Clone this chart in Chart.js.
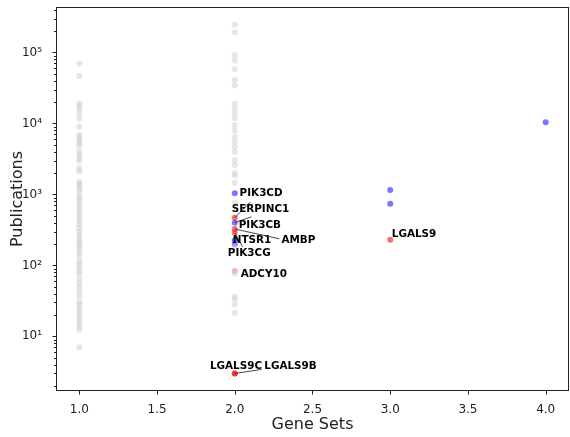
<!DOCTYPE html>
<html>
<head>
<meta charset="utf-8">
<script src="https://cdn.jsdelivr.net/npm/chart.js@4.4.1/dist/chart.umd.min.js"></script>
<style>
  html, body { margin: 0; padding: 0; background: #fff; }
  #wrap { width: 570px; height: 437px; position: relative; }
</style>
</head>
<body>
<div id="wrap"><canvas id="grafico"></canvas></div>
<script>
// publications of genes found in 1 gene set (background)
const pubsOneSet = [70000, 46000, 19000, 17500, 15800, 13800, 11700, 9000, 6900, 6300, 5900, 5300,
    4800, 4000, 3600, 3250, 2950, 2350, 2100, 1500, 1400, 1300, 1160, 1050, 920, 870, 790, 710,
    640, 570, 515, 460, 415, 375, 335, 300, 270, 245, 220, 200, 186, 167, 149, 134, 114, 103, 93,
    83, 75, 64, 55, 49, 42, 37, 31, 28, 25.5, 23, 21, 19, 17, 15.4, 13.8, 12.4, 7];
// publications of genes found in 2 gene sets (background)
const pubsTwoSets = [245000, 190000, 91000, 77000, 58000, 41000, 34500, 19000, 16300, 13900, 11800,
    9400, 7900, 6400, 5500, 4650, 3950, 3030, 2590, 2000, 1850, 1450, 760, 182, 76, 36, 33, 28, 21.5];

// highlighted genes
const blueSets = [2, 2, 2, 2, 3, 3, 4];
const bluePubs = [1040, 400, 225, 200, 1150, 740, 10400];
const redNames = ["SERPINC1", "AMBP", "NTSR1", "ADCY10", "LGALS9C", "LGALS9B", "LGALS9"];
const redSets = [2, 2, 2, 2, 2, 2, 3];
const redPubs = [470, 325, 287, 83, 3, 3, 230];

// text labels (anchor = left edge, middle) and connector start, in data units
const labelNames = ["PIK3CD", "SERPINC1", "PIK3CB", "NTSR1", "AMBP", "PIK3CG", "ADCY10", "LGALS9", "LGALS9C", "LGALS9B"];
const labelSets = [2.031, 1.98, 2.025, 1.987, 2.30, 1.955, 2.038, 3.01, 1.84, 2.19];
const labelPubs = [1047, 624, 372, 229, 229, 146, 76, 278, 3.77, 3.77];
const lineSets = [null, 2.10, 2.107, 2.05, 2.287, null, null, null, null, 2.172];
const linePubs = [null, 782, 482, 183, 237, null, null, null, null, 3.42];
const linePointSets = [null, 2, 2, 2, 2, null, null, null, null, 2];
const linePointPubs = [null, 470, 400, 287, 325, null, null, null, null, 3];

const xTicks = [1, 1.5, 2, 2.5, 3, 3.5, 4];
const yDecades = [1, 2, 3, 4, 5];
const superDigits = {1: "\u00b9", 2: "\u00b2", 3: "\u00b3", 4: "\u2074", 5: "\u2075"};

const fuente = "'DejaVu Sans', sans-serif";

function puntos(xs, ys) {
    return ys.map(function (v, i) { return {x: Array.isArray(xs) ? xs[i] : xs, y: v}; });
}

// tick values for the log axis: 1..9 x 10^n inside the range
let yTickValues = [];
[0, 1, 2, 3, 4, 5].forEach(function (d) {
    for (let m = 1; m < 10; m++) {
        const v = m * Math.pow(10, d);
        if (v >= 1.7 && v <= 436000) yTickValues.push(v);
    }
});

function sinRelleno(scale) {
    scale.paddingTop = 0;
    scale.paddingBottom = 0;
    scale.paddingLeft = 0;
    scale.paddingRight = 0;
}

const marcoPlugin = {
    id: "marco",
    afterDatasetsDraw: function (chart) {
        const ctx = chart.ctx;
        const a = chart.chartArea;
        const xs = chart.scales.x;
        const ys = chart.scales.y;
        ctx.save();

        // labels and connectors
        ctx.font = "bold 10.4px " + fuente;
        ctx.fillStyle = "#000";
        ctx.textAlign = "left";
        ctx.textBaseline = "middle";
        labelNames.forEach(function (name, i) {
            if (lineSets[i] !== null) {
                ctx.beginPath();
                ctx.strokeStyle = "#333";
                ctx.lineWidth = 0.9;
                ctx.moveTo(xs.getPixelForValue(lineSets[i]), ys.getPixelForValue(linePubs[i]));
                ctx.lineTo(xs.getPixelForValue(linePointSets[i]), ys.getPixelForValue(linePointPubs[i]));
                ctx.stroke();
            }
            ctx.fillText(name, xs.getPixelForValue(labelSets[i]), ys.getPixelForValue(labelPubs[i]));
        });

        // spines
        ctx.strokeStyle = "#222";
        ctx.lineWidth = 1;
        ctx.strokeRect(Math.round(a.left) + 0.5, Math.round(a.top) + 0.5,
            Math.round(a.right - a.left) - 1, Math.round(a.bottom - a.top) - 1);

        // tick marks
        ctx.beginPath();
        xTicks.forEach(function (t) {
            const px = Math.round(xs.getPixelForValue(t)) + 0.5;
            ctx.moveTo(px, a.bottom);
            ctx.lineTo(px, a.bottom + 3.5);
        });
        yTickValues.forEach(function (v) {
            const py = Math.round(ys.getPixelForValue(v)) + 0.5;
            const mayor = Math.abs(Math.log10(v) - Math.round(Math.log10(v))) < 1e-9;
            ctx.moveTo(a.left, py);
            ctx.lineTo(a.left - (mayor ? 3.5 : 2), py);
        });
        ctx.stroke();
        ctx.restore();
    }
};

const ctx = document.getElementById("grafico");
new Chart(ctx, {
    type: "scatter",
    plugins: [marcoPlugin],
    data: {
        datasets: [
            {
                label: "fondo1",
                data: puntos(1, pubsOneSet),
                backgroundColor: "rgba(205,205,205,0.5)",
                borderWidth: 0,
                pointRadius: 3
            },
            {
                label: "fondo2",
                data: puntos(2, pubsTwoSets),
                backgroundColor: "rgba(205,205,205,0.5)",
                borderWidth: 0,
                pointRadius: 3
            },
            {
                label: "azul",
                data: puntos(blueSets, bluePubs),
                backgroundColor: "rgba(30,30,255,0.6)",
                borderWidth: 0,
                pointRadius: 3
            },
            {
                label: "rojo",
                data: puntos(redSets, redPubs),
                backgroundColor: function (c) {
                    return redNames[c.dataIndex] === "ADCY10" ? "rgba(240,150,150,0.75)" : "rgba(255,20,20,0.62)";
                },
                borderWidth: 0,
                pointRadius: 3
            }
        ]
    },
    options: {
        responsive: true,
        maintainAspectRatio: false,
        animation: false,
        events: [],
        layout: { autoPadding: false, padding: { top: 7, right: 1, left: 0, bottom: 0 } },
        plugins: {
            legend: { display: false },
            tooltip: { enabled: false }
        },
        scales: {
            x: {
                type: "linear",
                min: 0.85,
                max: 4.15,
                afterBuildTicks: function (scale) {
                    scale.ticks = xTicks.map(function (v) { return {value: v}; });
                },
                afterFit: function (scale) { scale.height = 46; sinRelleno(scale); },
                grid: { display: false },
                border: { display: false },
                ticks: {
                    color: "#222",
                    padding: 4,
                    maxRotation: 0,
                    font: { family: fuente, size: 12 },
                    callback: function (v) { return Number(v).toFixed(1); }
                },
                title: {
                    display: true,
                    text: "Gene Sets",
                    color: "#222",
                    font: { family: fuente, size: 16 },
                    padding: { top: 0, bottom: 3 }
                }
            },
            y: {
                type: "logarithmic",
                min: 1.7,
                max: 436000,
                afterBuildTicks: function (scale) {
                    scale.ticks = yTickValues.map(function (v) { return {value: v}; });
                },
                afterFit: function (scale) { scale.width = 56; sinRelleno(scale); },
                grid: { display: false },
                border: { display: false },
                ticks: {
                    color: "#222",
                    padding: 6,
                    autoSkip: false,
                    font: { family: fuente, size: 12 },
                    callback: function (v) {
                        const d = Math.log10(v);
                        if (Math.abs(d - Math.round(d)) < 1e-9 && yDecades.indexOf(Math.round(d)) >= 0) {
                            return "10" + superDigits[Math.round(d)];
                        }
                        return "";
                    }
                },
                title: {
                    display: true,
                    text: "Publications",
                    color: "#222",
                    font: { family: fuente, size: 16 },
                    padding: { top: 8, bottom: 0 }
                }
            }
        }
    }
});
</script>
</body>
</html>
